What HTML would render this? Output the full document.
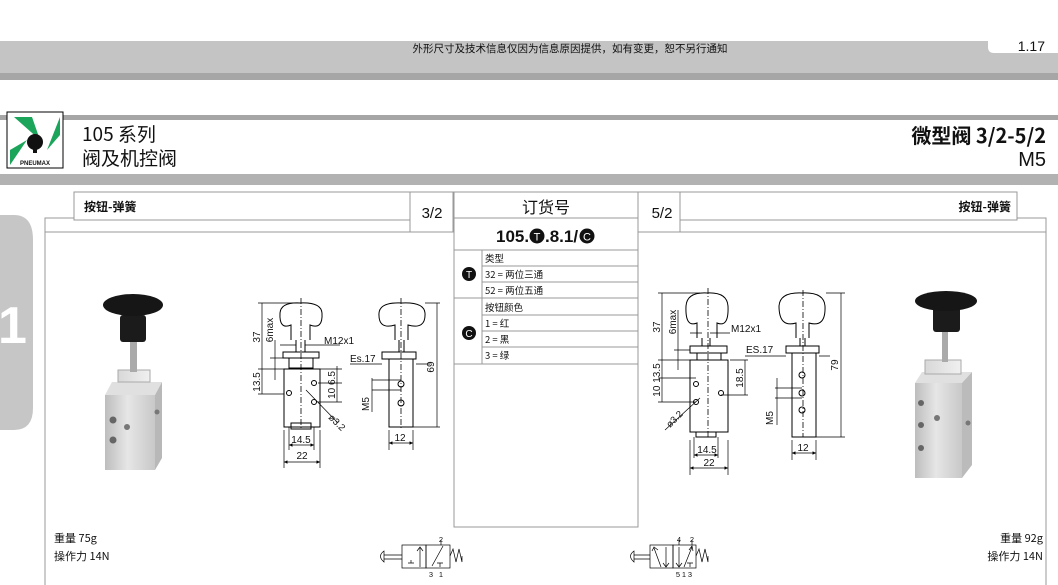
<!DOCTYPE html>
<html><head><meta charset="utf-8"><style>
html,body{margin:0;padding:0;background:#fff;}
body{width:1058px;height:585px;overflow:hidden;position:relative;}
svg{position:absolute;left:0;top:0;}
text{font-family:"Liberation Sans","Noto Sans CJK SC",sans-serif;fill:#111;}
.cj{font-family:"Noto Sans CJK SC","WenQuanYi Zen Hei",sans-serif;}
.ln{stroke:#000;stroke-width:1;fill:none;}
.th{stroke:#000;stroke-width:0.7;fill:none;}
.dd{stroke:#000;stroke-width:0.8;fill:none;stroke-dasharray:6,2,1,2;}
.fr{stroke:#999;stroke-width:1;fill:none;}
</style></head><body>
<svg width="1058" height="585" viewBox="0 0 1058 585">
<defs>
<linearGradient id="met" x1="0" x2="1"><stop offset="0" stop-color="#bdbdbd"/><stop offset="0.45" stop-color="#e6e6e6"/><stop offset="1" stop-color="#c8c8c8"/></linearGradient>
<linearGradient id="met2" x1="0" x2="1"><stop offset="0" stop-color="#d8d8d8"/><stop offset="1" stop-color="#f0f0f0"/></linearGradient>
<marker id="ar" viewBox="0 0 6 6" refX="6" refY="3" markerWidth="5" markerHeight="5" orient="auto-start-reverse"><path d="M0,0L6,3L0,6z" fill="#000"/></marker>
</defs>
<rect x="0" y="41" width="1058" height="32" fill="#c4c4c4"/>
<rect x="0" y="73" width="1058" height="7" fill="#a6a6a6"/>
<path d="M988,38 L1058,38 L1058,53 L994,53 Q988,53 988,47 Z" fill="#fff"/>
<text x="570" y="52" font-size="10.5" text-anchor="middle" class="cj">外形尺寸及技术信息仅因为信息原因提供，如有变更，恕不另行通知</text>
<text x="1045" y="51" font-size="14" text-anchor="end">1.17</text>
<rect x="0" y="115" width="1058" height="5" fill="#a6a6a6"/>
<rect x="0" y="174" width="1058" height="11" fill="#b2b2b2"/>
<rect x="7" y="112" width="56" height="56" fill="#fff" stroke="#000" stroke-width="1"/>
<path d="M14,117 L32,117 L40,140 Z" fill="#1aa55a"/>
<path d="M60,117 L60,135 L47,150 Z" fill="#1aa55a"/>
<path d="M10,165 L10,150 L27,140 Z" fill="#1aa55a"/>
<circle cx="35" cy="142" r="8" fill="#111"/>
<rect x="33" y="149" width="4" height="4" fill="#111"/>
<text x="35" y="165" font-size="6" font-weight="bold" text-anchor="middle">PNEUMAX</text>
<text x="82" y="141" font-size="19" class="cj">105 系列</text>
<text x="82" y="165" font-size="19" class="cj">阀及机控阀</text>
<text x="1046" y="143" font-size="20" font-weight="bold" text-anchor="end" class="cj">微型阀 3/2-5/2</text>
<text x="1046" y="166" font-size="20" text-anchor="end">M5</text>
<path d="M0,215 L14,215 Q33,215 33,240 L33,408 Q33,430 14,430 L0,430 Z" fill="#c6c6c6"/>
<text x="-2" y="343" font-size="52" font-weight="bold" style="fill:#fff">1</text>
<path class="fr" d="M45,585 L45,218 L74,218 M45,232 L453,232"/>
<rect class="fr" x="74" y="192" width="336" height="28"/>
<rect class="fr" x="410" y="192" width="43" height="40"/>
<rect class="fr" x="454" y="192" width="184" height="335"/>
<path class="fr" d="M454,218 L638,218 M454,250 L638,250 M482,266 L638,266 M482,282 L638,282 M454,298 L638,298 M482,315 L638,315 M482,331 L638,331 M482,347 L638,347 M454,364 L638,364 M482,250 L482,364"/>
<rect class="fr" x="638" y="192" width="42" height="40"/>
<rect class="fr" x="680" y="192" width="337" height="28"/>
<path class="fr" d="M1017,218 L1046,218 L1046,585 M680,232 L1046,232"/>
<text x="84" y="211" font-size="12" font-weight="bold" class="cj">按钮-弹簧</text>
<text x="1011" y="211" font-size="12" font-weight="bold" text-anchor="end" class="cj">按钮-弹簧</text>
<text x="432" y="218" font-size="15" text-anchor="middle">3/2</text>
<text x="662" y="218" font-size="15" text-anchor="middle">5/2</text>
<text x="546" y="213" font-size="16" text-anchor="middle" class="cj">订货号</text>
<text x="496" y="242" font-size="17" font-weight="bold">105.</text>
<circle cx="537" cy="236" r="7.5" fill="#111"/><text x="537" y="240.5" font-size="11" text-anchor="middle" style="fill:#fff">T</text>
<text x="545" y="242" font-size="17" font-weight="bold">.8.1/</text>
<circle cx="587" cy="236" r="7.5" fill="#111"/><text x="587" y="240.5" font-size="11" text-anchor="middle" style="fill:#fff">C</text>
<circle cx="469" cy="274" r="7" fill="#111"/><text x="469" y="278" font-size="10" text-anchor="middle" style="fill:#fff">T</text>
<circle cx="469" cy="333" r="7" fill="#111"/><text x="469" y="337" font-size="10" text-anchor="middle" style="fill:#fff">C</text>
<g font-size="9.5">
<text x="485" y="262" class="cj">类型</text>
<text x="485" y="278" class="cj">32 = 两位三通</text>
<text x="485" y="294" class="cj">52 = 两位五通</text>
<text x="485" y="311" class="cj">按钮颜色</text>
<text x="485" y="327" class="cj">1 = 红</text>
<text x="485" y="343" class="cj">2 = 黑</text>
<text x="485" y="359" class="cj">3 = 绿</text>
</g>
<g>
<rect x="105" y="395" width="50" height="75" fill="url(#met)"/>
<path d="M105,395 L112,382 L162,382 L155,395 Z" fill="#e0e0e0"/>
<path d="M155,395 L162,382 L162,458 L155,470 Z" fill="#b8b8b8"/>
<rect x="118" y="370" width="32" height="12" fill="url(#met2)" stroke="#aaa"/>
<rect x="130" y="340" width="7" height="32" fill="#aaa"/>
<rect x="120" y="315" width="26" height="27" rx="3" fill="#1b1b1b"/>
<ellipse cx="133" cy="305" rx="30" ry="11" fill="#161616"/>
<circle cx="113" cy="420" r="3.5" fill="#666"/><circle cx="113" cy="440" r="3.5" fill="#666"/><circle cx="127" cy="427" r="3" fill="#777"/><circle cx="157" cy="412" r="2.5" fill="#777"/>
</g>
<g>
<rect x="915" y="383" width="47" height="95" fill="url(#met)"/>
<path d="M915,383 L922,372 L972,372 L962,383 Z" fill="#e0e0e0"/>
<path d="M962,383 L972,372 L972,465 L962,478 Z" fill="#bbb"/>
<rect x="925" y="360" width="36" height="14" fill="url(#met2)" stroke="#aaa"/>
<rect x="942" y="330" width="6" height="32" fill="#aaa"/>
<rect x="933" y="305" width="27" height="27" rx="3" fill="#1b1b1b"/>
<ellipse cx="946" cy="301" rx="31" ry="10" fill="#161616"/>
<circle cx="921" cy="403" r="3" fill="#666"/><circle cx="921" cy="425" r="3" fill="#666"/><circle cx="921" cy="448" r="3" fill="#666"/><circle cx="937" cy="418" r="3" fill="#777"/><circle cx="968" cy="423" r="2.5" fill="#777"/>
</g>
<g>
<path class="ln" d="M291,340 L291,325 Q279,330 280,313 Q281,302 300,303 Q321,302 322,313 Q323,330 310,325 L310,340"/>
<path class="ln" d="M296,340 L296,352 M305,340 L305,352"/>
<rect class="ln" x="283" y="352" width="36" height="6"/>
<rect class="ln" x="289" y="358" width="24" height="10"/>
<rect class="ln" x="284" y="369" width="36" height="58"/>
<rect class="ln" x="291" y="423" width="20" height="6"/>
<line class="dd" x1="301" y1="298" x2="301" y2="430"/>
<circle class="ln" cx="289" cy="393" r="2.5"/><circle class="ln" cx="314" cy="383" r="2.5"/><circle class="ln" cx="314" cy="402" r="2.5"/>
<path class="th" d="M262,303 L262,369 M258,303 L300,303 M258,369 L284,369 M262,369 L262,394 M258,394 L284,394 M275,340 L275,380 M270,358 L283,358"/>
<path class="th" d="M284,430 L284,468 M320,430 L320,468 M289,427 L289,450 M314,427 L314,450"/>
<line class="th" x1="284" y1="462" x2="320" y2="462" marker-start="url(#ar)" marker-end="url(#ar)"/>
<line class="th" x1="289" y1="445" x2="314" y2="445" marker-start="url(#ar)" marker-end="url(#ar)"/>
<path class="th" d="M280,345 L296,345 M305,345 L340,345 M318,369 L342,369 M318,383 L342,383 M318,402 L342,402 M337,366 L337,402 M306,390 L338,423"/>
<g font-size="10">
<text x="262" y="337" transform="rotate(-90 262 337)" text-anchor="middle" dy="-2">37</text>
<text x="262" y="382" transform="rotate(-90 262 382)" text-anchor="middle" dy="-2">13.5</text>
<text x="275" y="330" transform="rotate(-90 275 330)" text-anchor="middle" dy="-2">6max</text>
<text x="324" y="344">M12x1</text>
<text x="337" y="385" transform="rotate(-90 337 385)" text-anchor="middle" dy="-2">10 6.5</text>
<text x="328" y="418" transform="rotate(45 328 418)" font-size="9.5">ø3.2</text>
<text x="302" y="459" text-anchor="middle">22</text>
<text x="301" y="443" text-anchor="middle">14.5</text>
</g>
</g>
<g>
<path class="ln" d="M395,340 L395,325 Q378,330 379,313 Q380,302 402,303 Q424,302 425,313 Q426,330 408,325 L408,340"/>
<path class="ln" d="M399,340 L399,352 M404,340 L404,352"/>
<rect class="ln" x="382" y="352" width="34" height="7"/>
<rect class="ln" x="389" y="359" width="24" height="68"/>
<line class="dd" x1="401" y1="298" x2="401" y2="428"/>
<circle class="ln" cx="401" cy="384" r="3"/><circle class="ln" cx="401" cy="403" r="3"/>
<path class="th" d="M425,303 L440,303 M413,427 L440,427 M437,303 L437,427 M350,364 L382,364 M416,364 L430,364 M372,380 L401,380 M372,390 L401,390 M372,378 L372,412 M389,430 L389,450 M413,430 L413,450"/>
<line class="th" x1="389" y1="443" x2="413" y2="443" marker-start="url(#ar)" marker-end="url(#ar)"/>
<g font-size="10">
<text x="437" y="367" transform="rotate(-90 437 367)" text-anchor="middle" dy="-3">69</text>
<text x="350" y="362">Es.17</text>
<text x="371" y="404" transform="rotate(-90 371 404)" text-anchor="middle" dy="-2">M5</text>
<text x="400" y="441" text-anchor="middle">12</text>
</g>
</g>
<g>
<path class="ln" d="M697,338 L697,323 Q685,328 686,306 Q687,292 707,293 Q727,292 728,306 Q729,328 717,323 L717,338"/>
<path class="ln" d="M702,338 L702,346 M710,338 L710,346"/>
<rect class="ln" x="690" y="346" width="37" height="7"/>
<rect class="ln" x="697" y="353" width="24" height="7"/>
<rect class="ln" x="690" y="360" width="38" height="72"/>
<rect class="ln" x="696" y="432" width="20" height="5"/>
<line class="dd" x1="708" y1="288" x2="708" y2="437"/>
<circle class="ln" cx="696" cy="384" r="2.5"/><circle class="ln" cx="696" cy="402" r="2.5"/><circle class="ln" cx="721" cy="393" r="2.5"/>
<path class="th" d="M662,293 L662,402 M658,293 L700,293 M658,360 L690,360 M658,378 L696,378 M658,402 L696,402 M678,310 L678,370 M674,350 L690,350 M690,440 L690,475 M728,440 L728,475 M694,437 L694,458 M718,437 L718,458 M730,360 L748,360 M721,395 L748,395 M745,360 L745,395 M690,333 L702,333 M710,333 L730,333 M665,430 L700,398"/>
<line class="th" x1="690" y1="468" x2="728" y2="468" marker-start="url(#ar)" marker-end="url(#ar)"/>
<line class="th" x1="694" y1="455" x2="718" y2="455" marker-start="url(#ar)" marker-end="url(#ar)"/>
<g font-size="10">
<text x="662" y="327" transform="rotate(-90 662 327)" text-anchor="middle" dy="-2">37</text>
<text x="662" y="380" transform="rotate(-90 662 380)" text-anchor="middle" dy="-2">10 13.5</text>
<text x="678" y="322" transform="rotate(-90 678 322)" text-anchor="middle" dy="-2">6max</text>
<text x="731" y="332">M12x1</text>
<text x="745" y="378" transform="rotate(-90 745 378)" text-anchor="middle" dy="-2">18.5</text>
<text x="670" y="428" transform="rotate(-45 670 428)" font-size="9.5">ø3.2</text>
<text x="709" y="466" text-anchor="middle">22</text>
<text x="707" y="453" text-anchor="middle">14.5</text>
</g>
</g>
<g>
<path class="ln" d="M796,338 L796,323 Q779,328 779,306 Q780,292 802,293 Q824,292 825,306 Q826,328 809,323 L809,338"/>
<path class="ln" d="M800,338 L800,346 M805,338 L805,346"/>
<rect class="ln" x="786" y="346" width="33" height="7"/>
<rect class="ln" x="792" y="353" width="24" height="84"/>
<line class="dd" x1="803" y1="290" x2="803" y2="437"/>
<circle class="ln" cx="802" cy="375" r="3"/><circle class="ln" cx="802" cy="393" r="3"/><circle class="ln" cx="802" cy="410" r="3"/>
<path class="th" d="M826,293 L845,293 M816,437 L845,437 M841,293 L841,437 M745,356 L786,356 M819,356 L830,356 M775,388 L802,388 M775,398 L802,398 M777,378 L777,425 M792,440 L792,460 M816,440 L816,460"/>
<line class="th" x1="792" y1="453" x2="816" y2="453" marker-start="url(#ar)" marker-end="url(#ar)"/>
<g font-size="10">
<text x="841" y="365" transform="rotate(-90 841 365)" text-anchor="middle" dy="-3">79</text>
<text x="746" y="353">ES.17</text>
<text x="775" y="418" transform="rotate(-90 775 418)" text-anchor="middle" dy="-2">M5</text>
<text x="803" y="451" text-anchor="middle">12</text>
</g>
</g>
<text x="54" y="542" font-size="11" class="cj">重量 75g</text>
<text x="54" y="560" font-size="11" class="cj">操作力 14N</text>
<text x="1043" y="542" font-size="11" text-anchor="end" class="cj">重量 92g</text>
<text x="1043" y="560" font-size="11" text-anchor="end" class="cj">操作力 14N</text>
<g>
<path class="th" d="M384,551 Q377,556 384,562 Z M384,555 L402,555 M384,559 L402,559"/>
<rect class="th" x="402" y="545" width="24" height="23"/>
<rect class="th" x="426" y="545" width="24" height="23"/>
<path class="th" d="M408,563 L414,563 M411,563 L411,560 M420,567 L420,548 M417,551 L420,547 L423,551 M432,566 L443,546 M437,563 L443,563 M440,563 L440,567 M441,545 L441,540 M450,556 L453,549 L456,562 L459,549 L462,562 L462,556"/>
<path class="th" d="M634,551 Q627,556 634,562 Z M634,555 L650,555 M634,559 L650,559"/>
<rect class="th" x="650" y="545" width="23" height="23"/>
<rect class="th" x="673" y="545" width="23" height="23"/>
<path class="th" d="M654,548 L661,567 M652,551 L654,547 L658,550 M666,547 L666,567 M663,563 L666,567 L669,563 M679,547 L679,567 M676,563 L679,567 L682,563 M684,567 L692,547 M689,550 L692,546 L693,551 M687,563 L693,563 M690,563 L690,567 M679,545 L679,540 M692,545 L692,540 M696,556 L699,549 L702,562 L705,549 L708,562 L708,556"/>
</g>
<g font-size="7.5">
<text x="441" y="542" text-anchor="middle">2</text>
<text x="431" y="577" text-anchor="middle">3</text>
<text x="441" y="577" text-anchor="middle">1</text>
<text x="679" y="542" text-anchor="middle">4</text>
<text x="692" y="542" text-anchor="middle">2</text>
<text x="678" y="577" text-anchor="middle">5</text>
<text x="684" y="577" text-anchor="middle">1</text>
<text x="690" y="577" text-anchor="middle">3</text>
</g>
</svg>
</body></html>
